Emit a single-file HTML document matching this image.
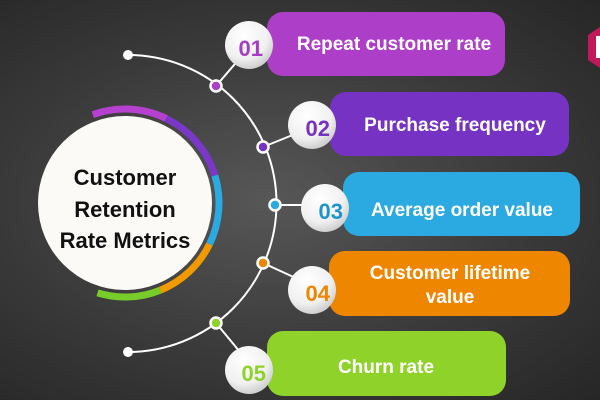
<!DOCTYPE html>
<html><head><meta charset="utf-8"><style>
html,body{margin:0;padding:0;}
body{width:600px;height:400px;overflow:hidden;background:radial-gradient(ellipse at 45% 50%,#575757 0%,#3a3a3a 55%,#262626 100%);}
svg{display:block;}
text{font-family:"Liberation Sans",sans-serif;font-weight:bold;}
</style></head><body>
<svg width="600" height="400" viewBox="0 0 600 400" xmlns="http://www.w3.org/2000/svg">
<defs>
<radialGradient id="ball" cx="40%" cy="30%" r="70%"><stop offset="0" stop-color="#ffffff"/><stop offset="0.7" stop-color="#f0f0f0"/><stop offset="1" stop-color="#cfcfcf"/></radialGradient>
</defs>
<polygon points="600,27 588,35 588,60 600,68" fill="#c0185a"/>
<rect x="596" y="36" width="4" height="22" fill="#fff"/>
<path d="M128,55 A148,148 0 0 1 128,352" fill="none" stroke="#fff" stroke-width="2"/>
<circle cx="128" cy="55" r="5" fill="#fff"/>
<circle cx="128" cy="352" r="5" fill="#fff"/>
<g stroke="#fff" stroke-width="2">
<line x1="216" y1="86" x2="240" y2="58"/>
<line x1="263" y1="147" x2="300" y2="132"/>
<line x1="275" y1="205" x2="310" y2="205"/>
<line x1="263" y1="263" x2="300" y2="280"/>
<line x1="216" y1="323" x2="240" y2="352"/>
</g>
<rect x="267" y="12" width="238" height="64" rx="16" fill="#ad3ec8"/>
<rect x="330" y="92" width="239" height="64" rx="16" fill="#7632c2"/>
<rect x="343" y="172" width="237" height="64" rx="16" fill="#2ba9e1"/>
<rect x="329" y="251" width="241" height="65" rx="16" fill="#ee8600"/>
<rect x="267" y="331" width="239" height="65" rx="16" fill="#8fd22a"/>
<g fill="#fff" font-size="19" text-anchor="middle">
<text x="394" y="50">Repeat customer rate</text>
<text x="455" y="131">Purchase frequency</text>
<text x="462" y="216">Average order value</text>
<text x="450" y="279">Customer lifetime</text>
<text x="450" y="303">value</text>
<text x="386" y="373">Churn rate</text>
</g>
<g>
<circle cx="249" cy="45" r="24" fill="url(#ball)"/>
<circle cx="312" cy="125" r="24" fill="url(#ball)"/>
<circle cx="325" cy="208" r="24" fill="url(#ball)"/>
<circle cx="312" cy="290" r="24" fill="url(#ball)"/>
<circle cx="249" cy="370" r="24" fill="url(#ball)"/>
</g>
<g font-size="22" text-anchor="end">
<text x="263" y="56" fill="#a63cc4">01</text>
<text x="330" y="136" fill="#7632c2">02</text>
<text x="343" y="219" fill="#1f94cc">03</text>
<text x="330" y="301" fill="#ee8600">04</text>
<text x="266" y="381" fill="#8fd22a">05</text>
</g>
<g stroke="#fff" stroke-width="2.5">
<circle cx="216" cy="86" r="5.5" fill="#ad3ec8"/>
<circle cx="263" cy="147" r="5.5" fill="#7632c2"/>
<circle cx="275" cy="205" r="5.5" fill="#2ba9e1"/>
<circle cx="263" cy="263" r="5.5" fill="#ee8600"/>
<circle cx="216" cy="323" r="5.5" fill="#8fd22a"/>
</g>
<g fill="none" stroke-width="7">
<path d="M92.8,114.7 A94,94 0 0 1 166.2,118.5" stroke="#b640d0"/>
<path d="M166.2,118.5 A94,94 0 0 1 214.9,175.5" stroke="#7a38c8"/>
<path d="M214.9,175.5 A94,94 0 0 1 209.5,244.2" stroke="#2ba9e1"/>
<path d="M209.5,244.2 A94,94 0 0 1 160.2,290.2" stroke="#f09a00"/>
<path d="M160.2,290.2 A94,94 0 0 1 97.5,292.9" stroke="#78cc2a"/>
</g>
<circle cx="125" cy="203" r="87" fill="#fbfaf7"/>
<g fill="#111" font-size="22" text-anchor="middle">
<text x="125" y="185">Customer</text>
<text x="125" y="217">Retention</text>
<text x="125" y="248">Rate Metrics</text>
</g>
</svg>
</body></html>
